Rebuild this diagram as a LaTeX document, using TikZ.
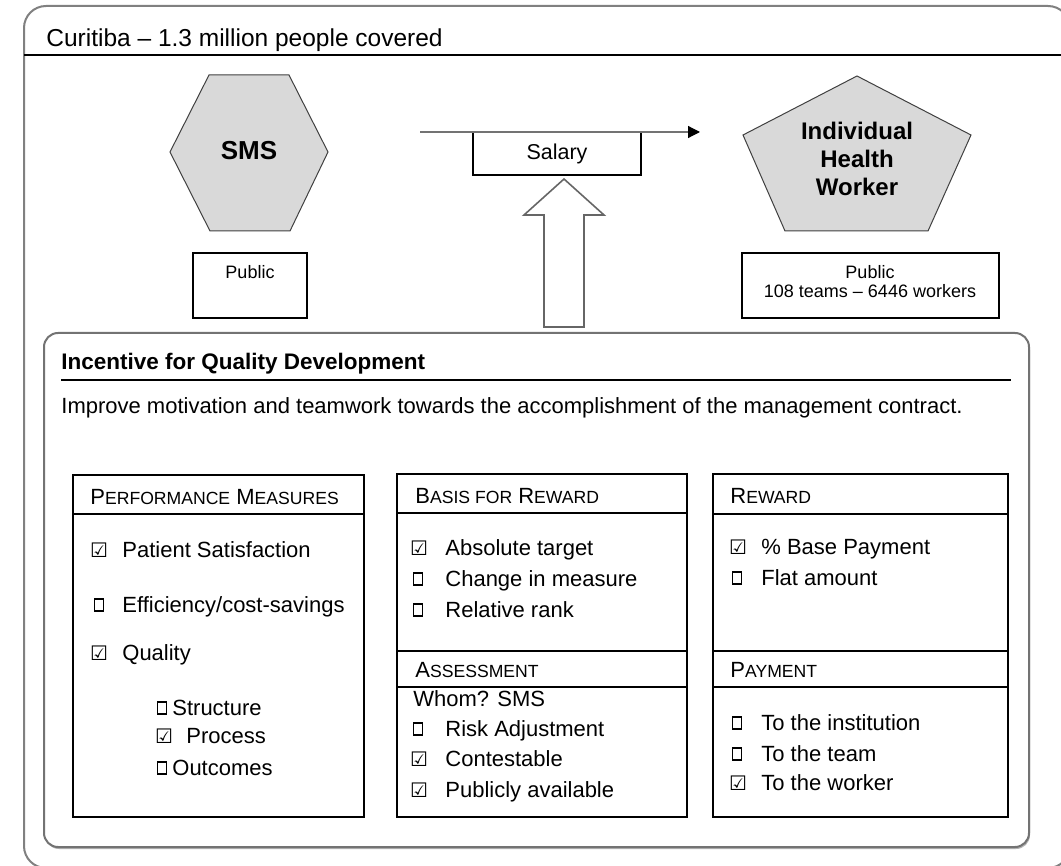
\documentclass[tikz,border=0pt]{standalone}
\usepackage{fontspec}
\setmainfont{Liberation Sans}
\newfontfamily\boxfont{DejaVu Sans}
\usetikzlibrary{arrows.meta}
\newcommand{\yes}{{\boxfont\fontsize{10}{11}\selectfont ☑}}
\newcommand{\lowcap}[1]{{\fontsize{8.8}{10}\selectfont #1}}

\begin{document}
\begin{tikzpicture}[x=0.5pt,y=0.5pt]
\tikzstyle{every node}+=[inner sep=0pt]
\tikzset{
  item/.style={anchor=base west,font=\fontsize{11}{13}\selectfont},
  tick/.style={anchor=center},
  nobox/.style={draw=black,line width=0.6pt,minimum width=4.5pt,minimum height=6pt},
  frame/.style={draw=black,line width=0.8pt,fill=white},
  shaded/.style={fill=black!15,draw=black!75,line width=0.5pt},
  flow/.style={draw=black!55,line width=0.6pt,-{Triangle[black,length=6pt,width=6pt]}}
}
\useasboundingbox (0,0) rectangle (1061,-866);
\clip (0,0) rectangle (1061,-866);
% outer frame and title
\draw [draw=black!50,line width=1pt,rounded corners=11pt] (24,-6) rectangle (1070,-868);
\draw [black,line width=0.8pt] (24,-55) -- (1061,-55);
\node [anchor=base west,font=\fontsize{12.25}{14}\selectfont] (city) at (46,-47) {Curitiba – 1.3 million people covered};
% payer and worker
\draw [shaded] (170,-152) -- (209,-75) -- (289,-75) -- (328,-152) -- (290,-231) -- (210,-231) -- cycle;
\node [font=\bfseries\fontsize{13}{15}\selectfont] (sms) at (249,-151) {SMS};
\draw [shaded] (857,-76) -- (971,-135) -- (928,-231) -- (785,-231) -- (743,-135) -- cycle;
\node [align=center,font=\bfseries\fontsize{12}{14}\selectfont] (ihw) at (857,-159) {Individual\\Health\\Worker};
\draw [frame] (193,-253) rectangle (307,-318);
\node [font=\fontsize{9}{9.5}\selectfont] (smspub) at (250,-272) {Public};
\draw [frame] (742,-253) rectangle (999,-318);
\node [align=center,font=\fontsize{9}{9.5}\selectfont] (ihwpub) at (870,-281.5) {Public\\108 teams – 6446 workers};
% salary flow
\coordinate (flowstart) at (420,-132);
\coordinate (flowend) at (700,-132);
\node [frame,minimum width=84pt,minimum height=21.5pt,font=\fontsize{10.75}{12}\selectfont] (salary) at (557,-153.5) {Salary};
\draw [flow] (flowstart) -- (flowend);
\draw [draw=black!60,line width=0.8pt,fill=white] (564,-179) -- (604,-215) -- (584,-215) -- (584,-327) -- (544,-327) -- (544,-215) -- (524,-215) -- cycle;
% incentive box
\fill [black!30,rounded corners=7pt] (45,-336) rectangle (1030,-849);
\draw [draw=black!55,line width=1pt,fill=white,rounded corners=7pt] (44,-333) rectangle (1029,-847);
\node [item,font=\bfseries\fontsize{11.25}{13}\selectfont] (iqd) at (61,-370) {Incentive for Quality Development};
\draw [black,line width=0.8pt] (61,-380) -- (1011,-380);
\node [item] (goal) at (61,-414) {Improve motivation and teamwork towards the accomplishment of the management contract.};
% performance measures
\draw [frame] (73,-475) rectangle (364,-817);
\draw [black,line width=0.8pt] (73,-514) -- (364,-514);
\node [item] (pmhead) at (90,-504) {P\lowcap{ERFORMANCE} M\lowcap{EASURES}};
\node [tick] (pm1b) at (99,-550) {\yes};
\node [item] (pm1) at (122,-557) {Patient Satisfaction};
\node [nobox] (pm2b) at (99,-605) {};
\node [item] (pm2) at (122,-612) {Efficiency/cost-savings};
\node [tick] (pm3b) at (99,-653) {\yes};
\node [item] (pm3) at (122,-660) {Quality};
\node [nobox] (pm4b) at (162,-708) {};
\node [item] (pm4) at (172,-715) {Structure};
\node [tick] (pm5b) at (164,-736) {\yes};
\node [item] (pm5) at (186,-743) {Process};
\node [nobox] (pm6b) at (162,-768) {};
\node [item] (pm6) at (172,-775) {Outcomes};
% basis for reward and assessment
\draw [frame] (397,-474) rectangle (687,-817);
\draw [black,line width=0.8pt] (397,-513) -- (687,-513);
\draw [black,line width=0.8pt] (397,-651) -- (687,-651);
\draw [black,line width=0.8pt] (397,-687) -- (687,-687);
\node [item] (brhead) at (415,-503) {B\lowcap{ASIS FOR} R\lowcap{EWARD}};
\node [tick] (br1b) at (419,-548) {\yes};
\node [item] (br1) at (445,-555) {Absolute target};
\node [nobox] (br2b) at (418,-579) {};
\node [item] (br2) at (445,-586) {Change in measure};
\node [nobox] (br3b) at (418,-610) {};
\node [item] (br3) at (445,-617) {Relative rank};
\node [item] (ashead) at (415,-677) {A\lowcap{SSESSMENT}};
\node [item] (whom) at (413,-706) {Whom? SMS};
\node [nobox] (as1b) at (418,-729) {};
\node [item] (as1) at (445,-736) {Risk Adjustment};
\node [tick] (as2b) at (419,-759) {\yes};
\node [item] (as2) at (445,-766) {Contestable};
\node [tick] (as3b) at (419,-790) {\yes};
\node [item] (as3) at (445,-797) {Publicly available};
% reward and payment
\draw [frame] (713,-474) rectangle (1008,-817);
\draw [black,line width=0.8pt] (713,-514) -- (1008,-514);
\draw [black,line width=0.8pt] (713,-651) -- (1008,-651);
\draw [black,line width=0.8pt] (713,-687) -- (1008,-687);
\node [item] (rwhead) at (730,-503) {R\lowcap{EWARD}};
\node [tick] (rw1b) at (738,-547) {\yes};
\node [item] (rw1) at (761,-554) {\% Base Payment};
\node [nobox] (rw2b) at (737,-578) {};
\node [item] (rw2) at (761,-585) {Flat amount};
\node [item] (payhead) at (730,-677) {P\lowcap{AYMENT}};
\node [nobox] (pay1b) at (737,-723) {};
\node [item] (pay1) at (761,-730) {To the institution};
\node [nobox] (pay2b) at (737,-754) {};
\node [item] (pay2) at (761,-761) {To the team};
\node [tick] (pay3b) at (738,-783) {\yes};
\node [item] (pay3) at (761,-790) {To the worker};
\end{tikzpicture}
\end{document}
